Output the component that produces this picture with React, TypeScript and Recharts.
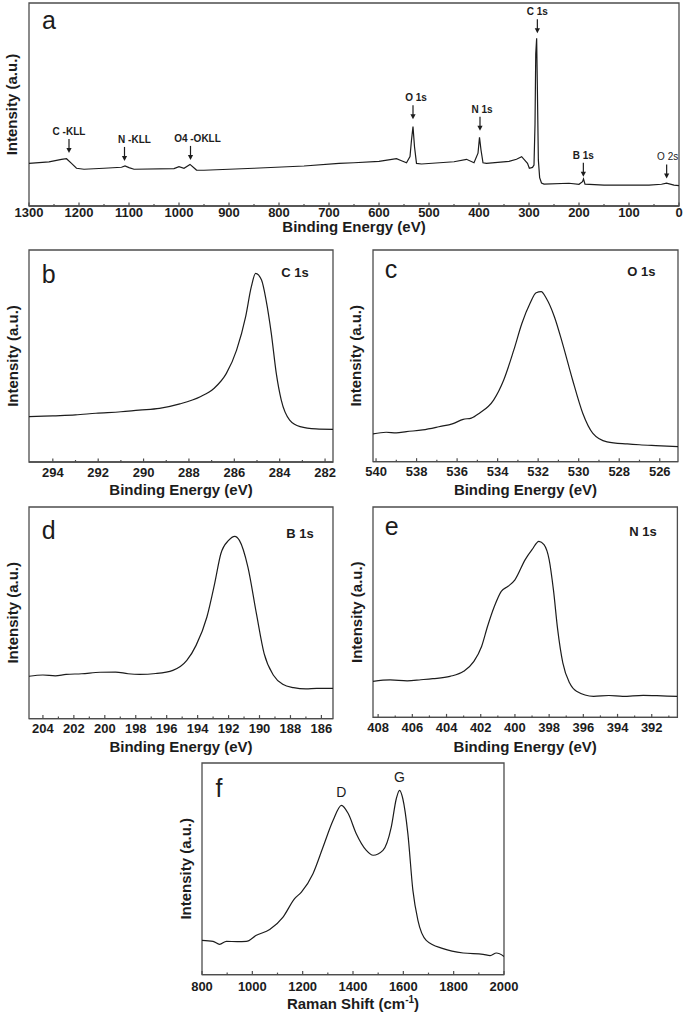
import React from "react";
import { LineChart, Line, XAxis, YAxis, ReferenceArea, ReferenceDot } from "recharts";

const FONT = '"Liberation Sans", Arial, sans-serif';
const INK = "#1c1c1c";
const FRAME = "#4d4d4d";

// (a) survey spectrum
const surveyEnergy = [1300, 1260, 1235, 1225, 1215, 1205, 1190, 1150, 1115, 1108, 1100, 1090, 1010, 1000, 990, 978, 965, 950, 850, 750, 680, 650, 600, 565, 555, 545, 538, 535, 532, 529, 525, 515, 450, 425, 410, 402, 399, 396, 392, 385, 340, 325, 314.7, 303, 299.3, 293, 290, 288, 286.5, 284.7, 283.3, 281.3, 278.7, 275, 270, 220, 200, 193, 191, 188, 150, 60, 35, 25, 10, 0];
const surveyIntensity = [21.0, 21.7, 23.0, 23.3, 21.0, 18.6, 18.1, 18.6, 19.1, 19.7, 18.9, 18.1, 18.4, 19.4, 18.6, 20.5, 17.7, 17.6, 18.6, 19.7, 21.0, 21.3, 22.0, 23.3, 22.3, 21.3, 24.3, 32.5, 39.1, 29.2, 21.0, 20.7, 21.8, 23.0, 21.3, 26.0, 33.8, 27.6, 21.3, 21.0, 22.0, 23.0, 24.3, 21.0, 18.6, 19.0, 20.2, 40.0, 75.0, 82.6, 58.8, 22.7, 14.0, 11.3, 10.8, 11.2, 10.7, 12.0, 13.3, 10.8, 10.3, 10.3, 10.7, 11.3, 10.3, 10.0];
const surveyPeakNames = ["C -KLL", "N -KLL", "O4 -OKLL", "O 1s", "N 1s", "C 1s", "B 1s", "O 2s"];
const surveyPeakEnergy = [1220, 1109, 977, 532, 398, 283.3, 191.3, 24.7];
const surveyPeakLevel = [26.1, 22.2, 22.7, 42.7, 37.1, 85.1, 14.4, 13.6];
const surveyTicks = [0, 100, 200, 300, 400, 500, 600, 700, 800, 900, 1000, 1100, 1200, 1300];
const surveyMinor = [50, 150, 250, 350, 450, 550, 650, 750, 850, 950, 1050, 1150, 1250];

// (b) C 1s
const c1sEnergy = [295.05, 294, 293, 292.1, 291, 290.2, 289.3, 288.4, 287.5, 286.9, 286.35, 285.9, 285.5, 285.25, 285.06, 284.8, 284.6, 284.37, 284.15, 283.93, 283.56, 283.1, 282.4, 281.65];
const c1sIntensity = [21.4, 21.8, 22.2, 23.0, 23.7, 24.5, 25.3, 27.4, 30.8, 34.7, 41.8, 52.8, 68.6, 82.7, 89.0, 85.8, 76.4, 60.7, 41.8, 29.2, 19.8, 16.7, 15.6, 15.4];
const c1sTicks = [282, 284, 286, 288, 290, 292, 294];
const c1sMinor = [283, 285, 287, 289, 291, 293];

// (c) O 1s
const o1sEnergy = [540.15, 539.5, 539.0, 538.5, 537.7, 536.9, 536.2, 535.7, 535.3, 534.9, 534.2, 533.7, 533.2, 532.8, 532.4, 532.1, 531.85, 531.6, 531.2, 530.8, 530.3, 529.8, 529.3, 528.6, 527.6, 527.0, 526.2, 525.1];
const o1sIntensity = [13.1, 13.9, 13.6, 14.2, 15.0, 16.5, 18.0, 20.0, 20.6, 22.9, 29.1, 38.6, 52.8, 65.4, 74.8, 79.8, 80.3, 77.2, 68.5, 55.9, 38.6, 22.9, 13.4, 9.4, 8.4, 8.0, 7.6, 7.1];
const o1sTicks = [526, 528, 530, 532, 534, 536, 538, 540];
const o1sMinor = [527, 529, 531, 533, 535, 537, 539];

// (d) B 1s
const b1sEnergy = [204.9, 204.0, 203.2, 202.5, 201.5, 200.3, 199.3, 198.5, 197.75, 196.7, 195.6, 194.7, 194.1, 193.4, 192.9, 192.5, 192.0, 191.6, 191.3, 190.75, 190.2, 189.7, 189.1, 188.5, 187.8, 187.0, 186.3, 185.25];
const b1sIntensity = [20.0, 20.6, 20.2, 20.9, 21.2, 21.9, 22.0, 21.2, 20.9, 21.3, 22.8, 27.5, 34.6, 48.0, 63.8, 77.9, 84.2, 86.1, 84.2, 71.6, 49.6, 30.7, 20.5, 16.2, 14.6, 14.0, 14.3, 14.3];
const b1sTicks = [186, 188, 190, 192, 194, 196, 198, 200, 202, 204];
const b1sMinor = [187, 189, 191, 193, 195, 197, 199, 201, 203];

// (e) N 1s
const n1sEnergy = [408.3, 407.3, 406.3, 405.5, 404.8, 403.8, 403.0, 402.4, 401.95, 401.6, 401.2, 400.8, 400.4, 400.0, 399.4, 399.0, 398.6, 398.3, 398.0, 397.75, 397.5, 397.2, 396.8, 396.4, 395.4, 394.5, 393.7, 392.5, 391.7, 390.5];
const n1sIntensity = [17.1, 17.8, 17.4, 17.9, 18.4, 19.5, 21.9, 26.6, 33.7, 43.3, 52.8, 59.9, 62.3, 65.4, 75.0, 79.7, 83.7, 82.1, 75.0, 60.7, 41.7, 25.9, 16.3, 12.4, 10.0, 10.4, 10.0, 10.5, 10.3, 10.0];
const n1sTicks = [392, 394, 396, 398, 400, 402, 404, 406, 408];
const n1sMinor = [391, 393, 395, 397, 399, 401, 403, 405, 407];

// (f) Raman
const ramanShift = [800, 844, 870, 897, 940, 976, 1016, 1069, 1122, 1168, 1195, 1241, 1281, 1321, 1354, 1381, 1413, 1453, 1480, 1519, 1552, 1572, 1585, 1598, 1618, 1638, 1658, 1691, 1758, 1838, 1917, 1945, 1970, 2000];
const ramanIntensity = [16.2, 15.7, 14.3, 15.7, 15.6, 15.7, 18.6, 21.3, 27.2, 35.9, 39.0, 47.7, 60.3, 72.9, 80.0, 76.1, 66.6, 58.7, 56.4, 58.7, 69.7, 83.1, 87.1, 83.1, 66.6, 39.8, 25.6, 16.2, 12.3, 10.2, 9.6, 9.0, 10.2, 8.6];
const ramanPeakNames = ["D", "G"];
const ramanPeakShift = [1354, 1585];
const ramanPeakLevel = [80.0, 87.1];
const ramanTicks = [800, 1000, 1200, 1400, 1600, 1800, 2000];
const ramanMinor = [900, 1100, 1300, 1500, 1700, 1900];

// label tweaks for the survey arrows (horizontal nudge of the text)
const surveyLabelDx = [0, 10, 7, 3, 2, 0, 0, 1];

const PAD_L = 30;
const PAD_T = 4;
const PAD_R = 20;
const AXIS_H = 42;

type Box = { l: number; t: number; r: number; b: number };

type PanelProps = {
  box: Box;
  xs: number[];
  ys: number[];
  domain: [number, number];
  reversed?: boolean;
  major: number[];
  minor: number[];
  tickGap: number;
  titleGap: number;
  title: React.ReactNode;
  yTitleX: number;
  curve: "linear" | "monotone";
  letter: string;
  letterAt: [number, number];
  tag?: string;
  tagAt?: [number, number];
  children?: React.ReactNode;
};

function Panel(p: PanelProps) {
  const w = p.box.r - p.box.l;
  const h = p.box.b - p.box.t;
  const left = p.box.l - PAD_L;
  const top = p.box.t - PAD_T;
  const cw = w + PAD_L + PAD_R;
  const ch = h + PAD_T + AXIS_H;
  const data = p.xs.map((x, i) => ({ x, y: p.ys[i] }));
  const ticks = [...p.major, ...p.minor].sort((a, b) => a - b);

  const tick = (tp: any) => {
    const v = tp.payload.value;
    const isMajor = p.major.includes(v);
    return (
      <g>
        <line x1={tp.x} x2={tp.x} y1={tp.y} y2={tp.y - (isMajor ? 3.5 : 2)} stroke={FRAME} strokeWidth={1.2} />
        {isMajor && (
          <text x={tp.x} y={tp.y + p.tickGap} textAnchor="middle" fontFamily={FONT} fontWeight="bold" fontSize={13} fill={INK}>
            {v}
          </text>
        )}
      </g>
    );
  };

  const xTitle = () => (
    <text x={PAD_L + w / 2} y={PAD_T + h + p.titleGap + 5.4} textAnchor="middle" fontFamily={FONT} fontWeight="bold" fontSize={15} fill={INK}>
      {p.title}
    </text>
  );

  const yx = p.yTitleX - left;
  const yy = PAD_T + h / 2;
  const yTitle = () => (
    <text x={yx} y={yy} dy="0.36em" transform={`rotate(-90, ${yx}, ${yy})`} textAnchor="middle" fontFamily={FONT} fontWeight="bold" fontSize={15} fill={INK}>
      Intensity (a.u.)
    </text>
  );

  return (
    <div style={{ position: "absolute", left, top, width: cw, height: ch }}>
      <LineChart width={cw} height={ch} data={data} margin={{ top: PAD_T, right: PAD_R, bottom: 0, left: 0 }}>
        <XAxis
          dataKey="x"
          type="number"
          domain={p.domain}
          reversed={p.reversed}
          allowDataOverflow
          ticks={ticks}
          interval={0}
          tickSize={0}
          tickMargin={0}
          tickLine={false}
          axisLine={{ stroke: FRAME, strokeWidth: 1.3 }}
          tick={tick}
          height={AXIS_H}
          label={xTitle}
        />
        <YAxis type="number" domain={[0, 100]} allowDataOverflow width={PAD_L} tick={false} tickLine={false} axisLine={false} label={yTitle} />
        <ReferenceArea x1={p.domain[0]} x2={p.domain[1]} y1={0} y2={100} fill="none" fillOpacity={0} stroke={FRAME} strokeWidth={1.3} ifOverflow="visible" />
        <Line type={p.curve} dataKey="y" stroke={INK} strokeWidth={1.2} dot={false} activeDot={false} isAnimationActive={false} />
        {p.children}
      </LineChart>
      <svg width={cw} height={ch} style={{ position: "absolute", left: 0, top: 0, pointerEvents: "none" }}>
        <text x={PAD_L + p.letterAt[0]} y={PAD_T + p.letterAt[1]} fontFamily={FONT} fontSize={25} fill={INK}>
          {p.letter}
        </text>
        {p.tag && p.tagAt && (
          <text x={PAD_L + w - p.tagAt[0]} y={PAD_T + p.tagAt[1]} dy="0.36em" textAnchor="middle" fontFamily={FONT} fontWeight="bold" fontSize={13} fill={INK}>
            {p.tag}
          </text>
        )}
      </svg>
    </div>
  );
}

const arrowShape = (name: string, dx: number, bold: boolean) => (sp: any) => {
  const { cx, cy } = sp;
  return (
    <g>
      <line x1={cx} x2={cx} y1={cy - 14} y2={cy - 4} stroke={INK} strokeWidth={1.2} />
      <path d={`M${cx - 2.6},${cy - 5} L${cx + 2.6},${cy - 5} L${cx},${cy} Z`} fill={INK} />
      <text x={cx + dx} y={cy - 18} textAnchor="middle" fontFamily={FONT} fontWeight={bold ? "bold" : "normal"} fontSize={10} fill={INK}>
        {name}
      </text>
    </g>
  );
};

const peakText = (name: string) => (sp: any) => (
  <text x={sp.cx} y={sp.cy - 8} textAnchor="middle" fontFamily={FONT} fontSize={14} fill={INK}>
    {name}
  </text>
);

export default function App() {
  return (
    <div style={{ position: "absolute", left: 0, top: 0, width: 685, height: 1015, background: "#fff", overflow: "hidden" }}>
      <Panel
        box={{ l: 29, t: 3, r: 679, b: 206 }}
        xs={surveyEnergy}
        ys={surveyIntensity}
        domain={[0, 1300]}
        reversed
        major={surveyTicks}
        minor={surveyMinor}
        tickGap={11.3}
        titleGap={21}
        title="Binding Energy (eV)"
        yTitleX={12}
        curve="linear"
        letter="a"
        letterAt={[13, 26.3]}
      >
        {surveyPeakNames.map((n, i) => (
          <ReferenceDot
            key={n}
            x={surveyPeakEnergy[i]}
            y={surveyPeakLevel[i]}
            r={0}
            ifOverflow="visible"
            shape={arrowShape(n, surveyLabelDx[i], n !== "O 2s")}
          />
        ))}
      </Panel>
      <Panel
        box={{ l: 29, t: 250, r: 333, b: 462 }}
        xs={c1sEnergy}
        ys={c1sIntensity}
        domain={[281.65, 295.05]}
        reversed
        major={c1sTicks}
        minor={c1sMinor}
        tickGap={15}
        titleGap={27.3}
        title="Binding Energy (eV)"
        yTitleX={12.5}
        curve="monotone"
        letter="b"
        letterAt={[12.7, 33.3]}
        tag="C 1s"
        tagAt={[38, 22]}
      />
      <Panel
        box={{ l: 373.3, t: 250, r: 678.3, b: 461.7 }}
        xs={o1sEnergy}
        ys={o1sIntensity}
        domain={[525.1, 540.15]}
        reversed
        major={o1sTicks}
        minor={o1sMinor}
        tickGap={14.3}
        titleGap={27.6}
        title="Binding Energy (eV)"
        yTitleX={356}
        curve="monotone"
        letter="c"
        letterAt={[11.7, 28.3]}
        tag="O 1s"
        tagAt={[36.6, 21.7]}
      />
      <Panel
        box={{ l: 29, t: 506.7, r: 333, b: 718.3 }}
        xs={b1sEnergy}
        ys={b1sIntensity}
        domain={[185.25, 204.9]}
        reversed
        major={b1sTicks}
        minor={b1sMinor}
        tickGap={14.3}
        titleGap={28}
        title="Binding Energy (eV)"
        yTitleX={12.5}
        curve="monotone"
        letter="d"
        letterAt={[12.7, 31.6]}
        tag="B 1s"
        tagAt={[33, 26]}
      />
      <Panel
        box={{ l: 373.3, t: 507.3, r: 677.7, b: 717.7 }}
        xs={n1sEnergy}
        ys={n1sIntensity}
        domain={[390.5, 408.3]}
        reversed
        major={n1sTicks}
        minor={n1sMinor}
        tickGap={14.3}
        titleGap={28.8}
        title="Binding Energy (eV)"
        yTitleX={357}
        curve="monotone"
        letter="e"
        letterAt={[11.7, 27.7]}
        tag="N 1s"
        tagAt={[34.4, 24.4]}
      />
      <Panel
        box={{ l: 202.3, t: 762.7, r: 504.3, b: 974.3 }}
        xs={ramanShift}
        ys={ramanIntensity}
        domain={[800, 2000]}
        major={ramanTicks}
        minor={ramanMinor}
        tickGap={16.7}
        titleGap={29}
        title={
          <>
            Raman Shift (cm
            <tspan fontSize={10} dy={-6}>-1</tspan>
            <tspan dy={6}>)</tspan>
          </>
        }
        yTitleX={186}
        curve="monotone"
        letter="f"
        letterAt={[13.4, 34]}
      >
        {ramanPeakNames.map((n, i) => (
          <ReferenceDot key={n} x={ramanPeakShift[i]} y={ramanPeakLevel[i]} r={0} ifOverflow="visible" shape={peakText(n)} />
        ))}
      </Panel>
    </div>
  );
}
